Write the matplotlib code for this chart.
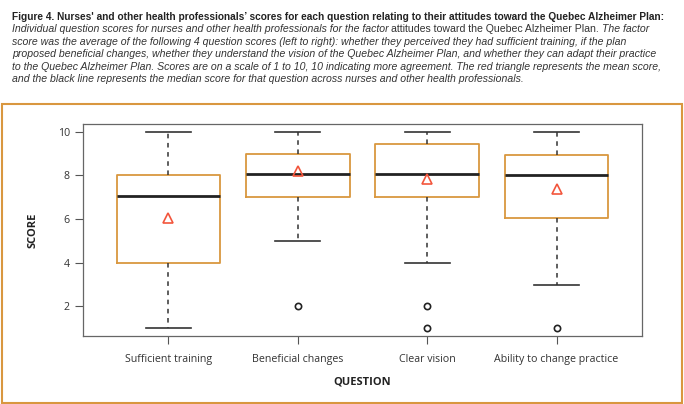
import matplotlib.pyplot as plt
from matplotlib.patches import Rectangle

# box statistics
questions = ["Sufficient training", "Beneficial changes", "Clear vision", "Ability to change practice"]
whislo = [1, 5, 4, 3]
q1 = [4, 7, 7, 6.05]
med = [7.05, 8.05, 8.05, 8.0]
q3 = [8, 9, 9.45, 8.95]
whishi = [10, 10, 10, 10]
means = [6.05, 8.2, 7.85, 7.4]
fliers = [[], [2], [2, 1], [1]]

orange = "#D9973F"
red = "#F2553C"
grey = "#555555"

title_bold = ("Figure 4. Nurses' and other health professionals\u2019 scores for each question "
              "relating to their attitudes toward the Quebec Alzheimer Plan:")
caption = [
    ("Individual question scores for nurses and other health professionals for the factor ", "attitudes toward the Quebec Alzheimer Plan. ", "The factor"),
    ("score was the average of the following 4 question scores (left to right): whether they perceived they had sufficient training, if the plan", "", ""),
    ("proposed beneficial changes, whether they understand the vision of the Quebec Alzheimer Plan, and whether they can adapt their practice", "", ""),
    ("to the Quebec Alzheimer Plan. Scores are on a scale of 1 to 10, 10 indicating more agreement. The red triangle represents the mean score,", "", ""),
    ("and the black line represents the median score for that question across nurses and other health professionals.", "", ""),
]

stats = []
for i in range(len(questions)):
    stats.append(dict(whislo=whislo[i], q1=q1[i], med=med[i], q3=q3[i],
                      whishi=whishi[i], mean=means[i], fliers=fliers[i]))

plt.rcParams["font.family"] = ["Open Sans", "DejaVu Sans"]

fig = plt.figure(figsize=(6.84, 4.04), dpi=100)
fig.patch.set_facecolor("white")

# caption
cfam = ["Liberation Sans Narrow", "Liberation Sans", "DejaVu Sans"]
fig.text(12 / 684, 1 - 17 / 404, title_bold, fontsize=7.3, fontweight="bold",
         family=cfam, color="#222222", va="center", ha="left")
y0 = 17
for k, (a, b, c) in enumerate(caption):
    y = y0 + 12.4 * (k + 1)
    t = fig.text(12 / 684, 1 - y / 404, a, fontsize=7.6, style="italic",
                 family=cfam, color="#333333", va="center", ha="left")
    if b:
        fig.canvas.draw()
        bb = t.get_window_extent()
        t2 = fig.text(bb.x1 / 684, 1 - y / 404, b, fontsize=7.6,
                      family=cfam, color="#333333", va="center", ha="left")
        fig.canvas.draw()
        bb2 = t2.get_window_extent()
        fig.text(bb2.x1 / 684, 1 - y / 404, c, fontsize=7.6, style="italic",
                 family=cfam, color="#333333", va="center", ha="left")

# orange panel border
fig.patches.append(Rectangle((2 / 684, 1 / 404), 680 / 684, 299 / 404,
                             transform=fig.transFigure, fill=False,
                             edgecolor=orange, linewidth=1.5))

ax = fig.add_axes([83 / 684, 1 - 336 / 404, (642 - 83) / 684, (336 - 124) / 404])

ax.bxp(stats, positions=[1, 2, 3, 4], widths=0.8, showmeans=True, showfliers=True,
       boxprops=dict(color=orange, linewidth=1.3),
       medianprops=dict(color="#222222", linewidth=2),
       whiskerprops=dict(color="#333333", linewidth=1.1, linestyle=(0, (3, 3))),
       capprops=dict(color="#333333", linewidth=1.2),
       capwidths=0.35,
       meanprops=dict(marker="^", markerfacecolor="none", markeredgecolor=red,
                      markersize=7.5, markeredgewidth=1.2),
       flierprops=dict(marker="o", markerfacecolor="none", markeredgecolor="#222222",
                       markersize=4.5, markeredgewidth=1.2))

ax.set_xlim(0.34, 4.66)
ax.set_ylim(0.64, 10.36)
ax.set_yticks([2, 4, 6, 8, 10])
ax.set_xticks([1, 2, 3, 4])
ax.set_xticklabels(questions)
ax.tick_params(axis="both", colors=grey, labelcolor="#333333", labelsize=7.7, length=6, width=0.8)
ax.tick_params(axis="x", pad=7)
for s in ax.spines.values():
    s.set_color("#666666")
    s.set_linewidth(0.9)

ax.set_ylabel("SCORE", fontsize=8, fontweight="bold", color="#222222", labelpad=14)
ax.set_xlabel("QUESTION", fontsize=8, fontweight="bold", color="#222222", labelpad=8)

fig.savefig("out.png", dpi=100)
